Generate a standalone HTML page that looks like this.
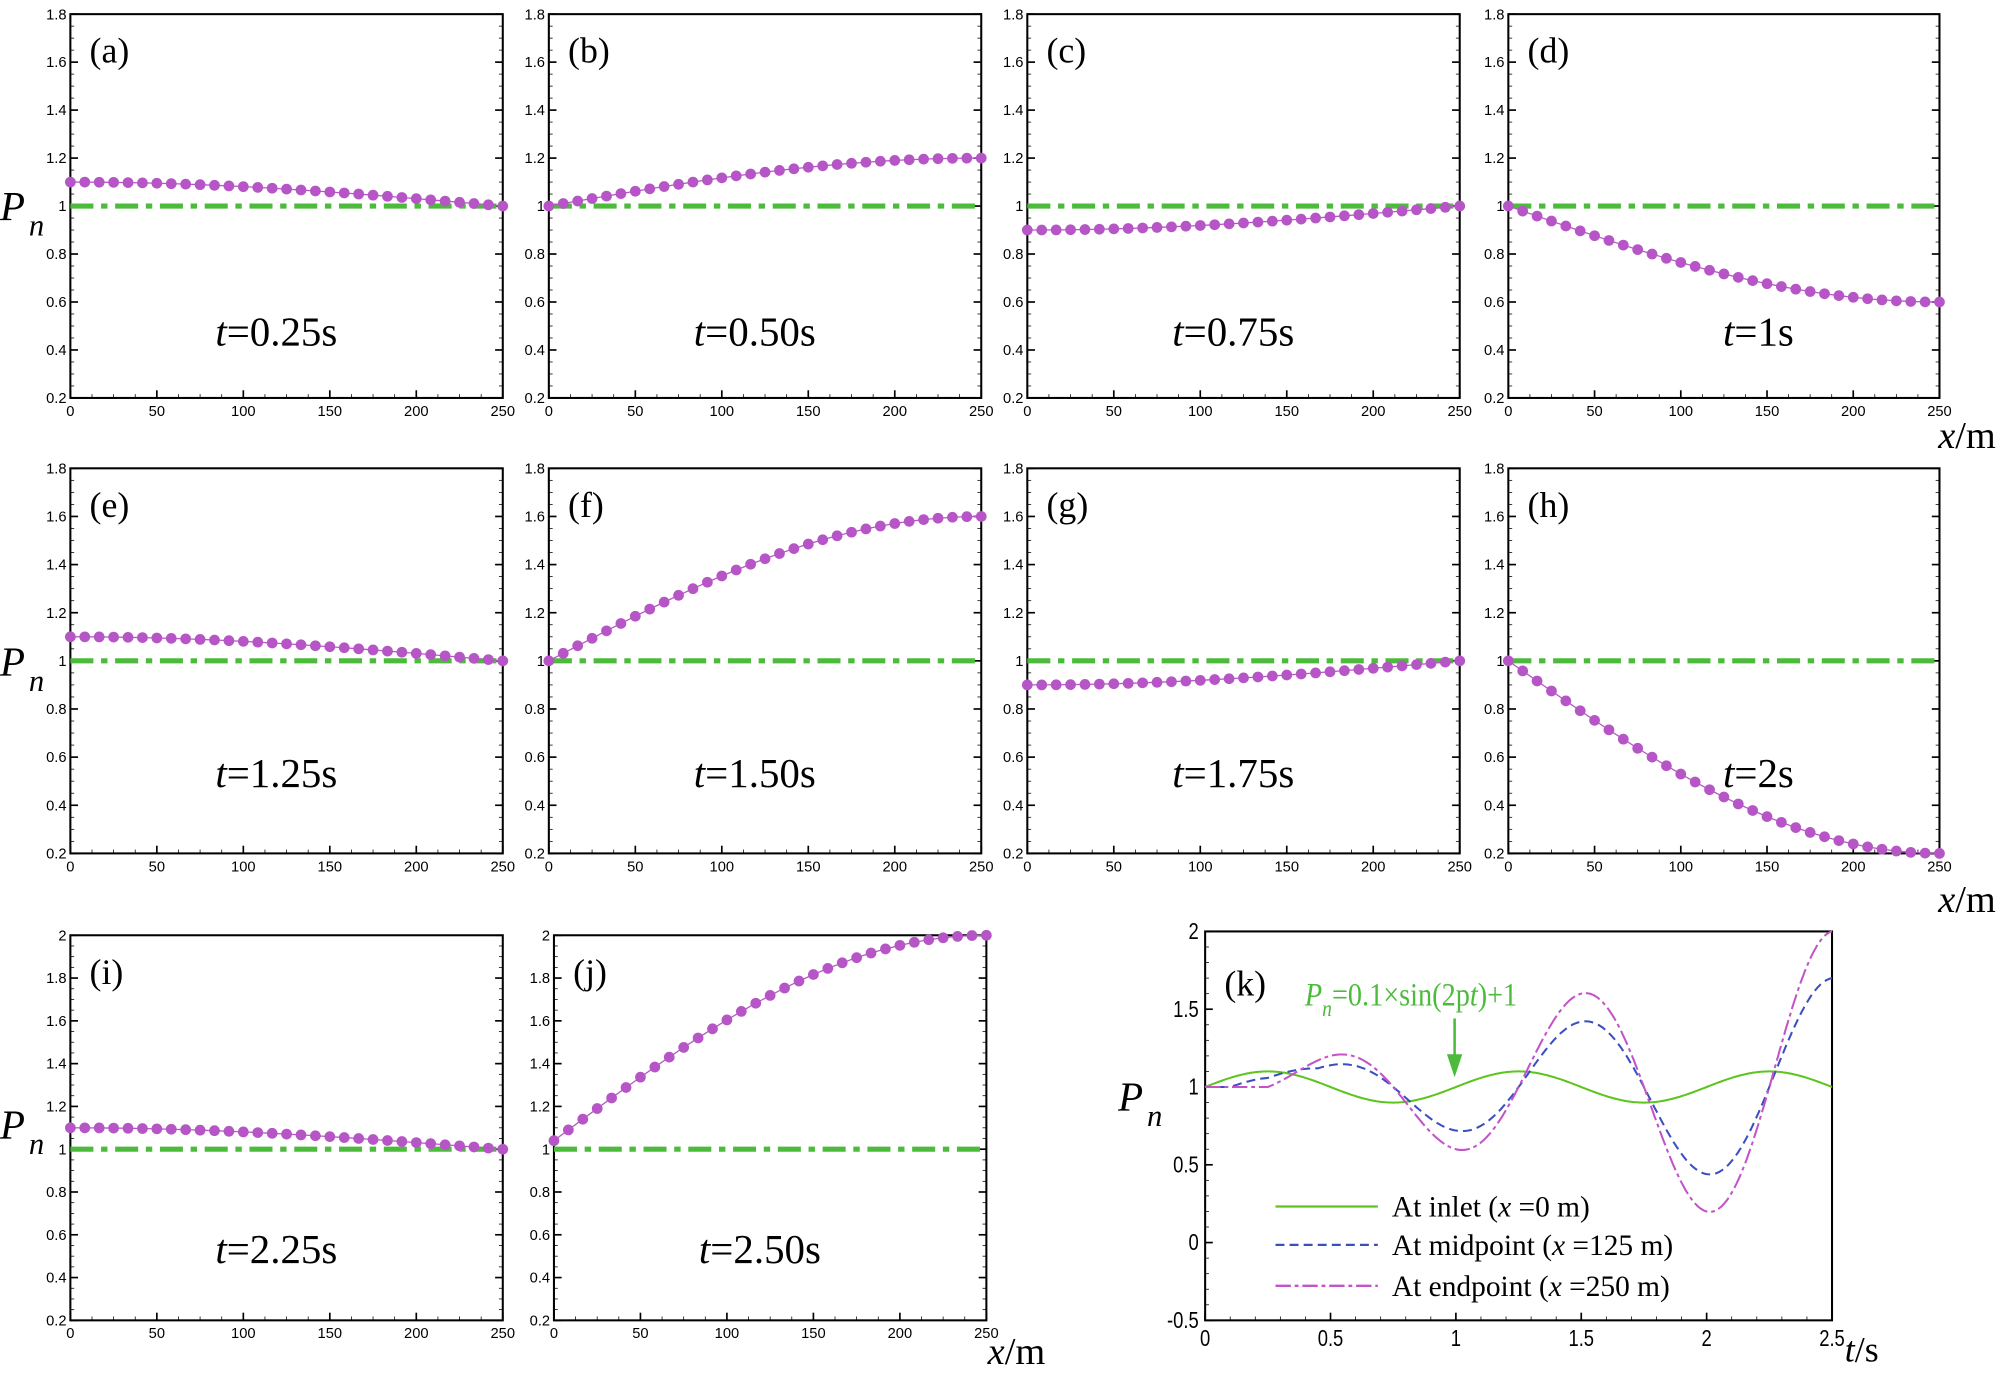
<!DOCTYPE html>
<html><head><meta charset="utf-8"><style>
html,body{margin:0;padding:0;background:#fff;}
svg{display:block;}
text{font-family:"Liberation Sans",sans-serif;}
.s{font-family:"Liberation Serif",serif;}
</style></head><body>
<svg id="g" xmlns="http://www.w3.org/2000/svg" width="2006" height="1378" viewBox="0 0 1568 1077"></svg>
<script>
const svg=document.getElementById('g');let h='';
const G='#4cbb3c',M='#b656c6';
function panel(x0,x1,y0,y1,ymax,lab,tl,f,ty,tx){
  const ymin=0.2,X=v=>x0+(x1-x0)*v/250,Y=v=>y1-(y1-y0)*(v-ymin)/(ymax-ymin);
  for(let v=ymin;v<=ymax+1e-6;v+=0.05){
    const maj=Math.abs(Math.round(v*10)/10-v)<1e-6&&Math.round(v*10)%2==0;
    const L=maj?6:3,y=Y(v);
    h+=`<line x1="${x0}" y1="${y}" x2="${x0+L}" y2="${y}" stroke="#000" stroke-width="${maj?1.3:0.6}"/>`;
    h+=`<line x1="${x1}" y1="${y}" x2="${x1-L}" y2="${y}" stroke="#000" stroke-width="${maj?1.3:0.6}"/>`;
    if(maj){let t=(Math.round(v*10)/10).toString();h+=`<text x="${x0-3}" y="${y+4}" font-size="11.5" text-anchor="end">${t}</text>`;}
  }
  for(let v=0;v<=250;v+=12.5){const maj=v%50==0,x=X(v);
    h+=`<line x1="${x}" y1="${y1}" x2="${x}" y2="${y1-(maj?6:3)}" stroke="#000" stroke-width="${maj?1.3:0.6}"/>`;
    if(maj)h+=`<text x="${x}" y="${y1+14}" font-size="11.5" text-anchor="middle">${v}</text>`;}
  h+=`<rect x="${x0}" y="${y0}" width="${x1-x0}" height="${y1-y0}" fill="none" stroke="#000" stroke-width="1.6"/>`;
  h+=`<line x1="${x0}" y1="${Y(1)}" x2="${x1}" y2="${Y(1)}" stroke="${G}" stroke-width="4" stroke-dasharray="18,6,5,6"/>`;
  let pts=[];for(let i=0;i<=30;i++){const x=250*i/30;pts.push([X(x),Y(f(x))]);}
  h+=`<polyline points="${pts.map(p=>p.join(',')).join(' ')}" fill="none" stroke="${M}" stroke-width="1"/>`;
  pts.forEach(p=>h+=`<circle cx="${p[0]}" cy="${p[1]}" r="4.2" fill="${M}"/>`);
  h+=`<text class="s" x="${x0+15}" y="${y0+38}" font-size="28">(${lab})</text>`;
  h+=`<text class="s" x="${(x0+x1)/2-8+(tx||0)}" y="${ty}" font-size="32" text-anchor="middle"><tspan font-style="italic">t</tspan>=${tl}</text>`;
}
const sn=(s,e)=>x=>s+(e-s)*Math.sin(Math.PI/2*x/250);
const cs=(s,e)=>x=>e+(s-e)*Math.cos(Math.PI/2*x/250);
const xs=[[55,393],[429,767],[803,1141],[1179,1516]];
const r1=[['a','0.25s',cs(1.1,1),0],['b','0.50s',sn(1,1.2),0],['c','0.75s',cs(0.9,1),0],['d','1s',sn(1,0.6),35]];
const r2=[['e','1.25s',cs(1.1,1),0],['f','1.50s',sn(1,1.6),0],['g','1.75s',cs(0.9,1),0],['h','2s',sn(1,0.2),35]];
r1.forEach((r,i)=>panel(xs[i][0],xs[i][1],11,311,1.8,r[0],r[1],r[2],270,r[3]));
r2.forEach((r,i)=>panel(xs[i][0],xs[i][1],366,667,1.8,r[0],r[1],r[2],615,r[3]));
panel(55,393,731,1032,2.0,'i','2.25s',cs(1.1,1),987,0);
panel(433,771,731,1032,2.0,'j','2.50s',sn(1.04,2.0),987,0);
[[172],[528],[890]].forEach(([y])=>h+=`<text class="s" x="0" y="${y}" font-size="32" font-style="italic">P<tspan font-size="24" dy="12" dx="3">n</tspan></text>`);
[[1515,350],[1515,713],[772,1066]].forEach(([x,y])=>h+=`<text class="s" x="${x}" y="${y}" font-size="30"><tspan font-style="italic">x</tspan>/m</text>`);
{const x0=942,x1=1432,y0=728,y1=1032,X=t=>x0+(x1-x0)*t/2.5,Y=v=>y1-(y1-y0)*(v+0.5)/2.5;
 for(let v=-0.5;v<=2.001;v+=0.1){const maj=Math.abs(v*2-Math.round(v*2))<1e-6,y=Y(v);
  h+=`<line x1="${x0}" y1="${y}" x2="${x0+(maj?6:3)}" y2="${y}" stroke="#000" stroke-width="${maj?1.3:0.6}"/>`;
  if(maj)h+=`<text x="${x0-5}" y="${y+6}" font-size="18" text-anchor="end" transform="translate(${x0-5},0) scale(0.8,1) translate(${-(x0-5)},0)">${Math.round(v*10)/10}</text>`;}
 for(let t=0;t<=2.5001;t+=0.1){const maj=Math.abs(t*2-Math.round(t*2))<1e-6,x=X(t);
  h+=`<line x1="${x}" y1="${y1}" x2="${x}" y2="${y1-(maj?6:3)}" stroke="#000" stroke-width="${maj?1.3:0.6}"/>`;
  if(maj)h+=`<text x="${x}" y="${y1+20}" font-size="18" text-anchor="middle" transform="translate(${x},0) scale(0.8,1) translate(${-x},0)">${Math.round(t*10)/10}</text>`;}
 h+=`<rect x="${x0}" y="${y0}" width="${x1-x0}" height="${y1-y0}" fill="none" stroke="#000" stroke-width="1.6"/>`;
 const inl=t=>1+0.1*Math.sin(2*Math.PI*t);
 const end=t=>t<0.25?1:1+0.4*t*Math.sin(2*Math.PI*(t-0.25));
 const mid=t=>{if(t<0.1)return 1;let v=1+(t<0.25?0:0.28*t*Math.sin(2*Math.PI*(t-0.25)));
   if(t<0.45)v+=0.06*Math.sin(Math.PI*(t-0.1)/0.35);return v;};
 const pl=(f,c,d,w)=>{let p=[];for(let i=0;i<=500;i++){const t=2.5*i/500;p.push(X(t).toFixed(1)+','+Y(f(t)).toFixed(1));}
   h+=`<polyline points="${p.join(' ')}" fill="none" stroke="${c}" stroke-width="${w}" ${d?`stroke-dasharray="${d}"`:''}/>`;};
 pl(inl,'#5ec41e',null,1.6);pl(mid,'#3c4fc0','7,4',1.6);pl(end,'#c254c8','12,3,3,3',1.6);
 h+=`<text class="s" x="${x0+15}" y="${y0+50}" font-size="28">(k)</text>`;
 h+=`<text class="s" x="1020" y="786" font-size="26" fill="${G}" transform="translate(1020,0) scale(0.85,1) translate(-1020,0)"><tspan font-style="italic">P</tspan><tspan font-style="italic" font-size="18" dy="8">n</tspan><tspan dy="-8">=0.1×sin(2p</tspan><tspan font-style="italic">t</tspan>)+1</text>`;
 h+=`<line x1="1137" y1="796" x2="1137" y2="828" stroke="${G}" stroke-width="2"/><polygon points="1131,824 1143,824 1137,842" fill="${G}"/>`;
 const lg=[['#5ec41e',null,'At inlet (<tspan font-style="italic">x</tspan> =0 m)',943],['#3c4fc0','7,4','At midpoint (<tspan font-style="italic">x</tspan> =125 m)',973],['#c254c8','12,3,3,3','At endpoint (<tspan font-style="italic">x</tspan> =250 m)',1005]];
 lg.forEach(([c,d,t,y])=>{h+=`<line x1="997" y1="${y}" x2="1077" y2="${y}" stroke="${c}" stroke-width="1.8" ${d?`stroke-dasharray="${d}"`:''}/>`;
  h+=`<text class="s" x="1088" y="${y+8}" font-size="23">${t}</text>`;});
 h+=`<text class="s" x="874" y="868" font-size="32" font-style="italic">P<tspan font-size="24" dy="12" dx="3">n</tspan></text>`;
 h+=`<text class="s" x="1442" y="1064" font-size="28"><tspan font-style="italic">t</tspan>/s</text>`;
}
svg.innerHTML=h;
</script>
</body></html>
